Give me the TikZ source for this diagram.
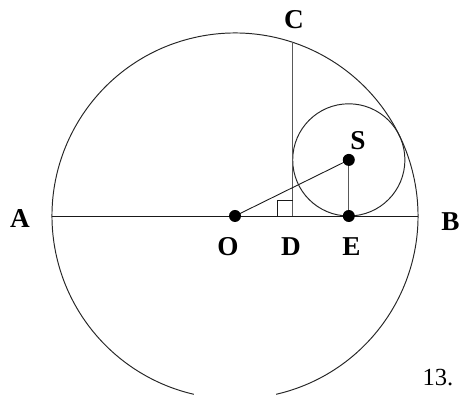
\documentclass[tikz,border=0pt]{standalone}
\usepackage{fontspec}
\setmainfont{Liberation Serif}
\usetikzlibrary{calc}

\begin{document}
\begin{tikzpicture}[
      x=0.02cm, y=0.02cm,
      circ/.style={draw=black!85, line width=0.55pt},
      seg/.style={draw=black!90, line width=0.5pt},
      greyseg/.style={draw=black!65, line width=0.65pt},
      dot/.style={circle, fill=black, inner sep=0pt, minimum size=12*0.02cm},
      lbl/.style={font=\fontsize{15.5}{17}\selectfont\bfseries, inner sep=0pt}
    ]
      \useasboundingbox (0,0) rectangle (460,395);

      % Points
      \coordinate (O) at (235,179);
      \coordinate (A) at (52,179);
      \coordinate (B) at (418,179);
      \coordinate (D) at (292.7,179);
      \coordinate (C) at (292.7,352.7);
      \coordinate (S) at (348.8,235.1);
      \coordinate (E) at (348.8,179);

      % Big circle, open at the bottom
      \draw[circ] ($(O)+(283:183)$) arc[start angle=283, end angle=617, radius=183];

      % Small circle
      \draw[circ] (S) circle (56.1);

      % Diameter and chords
      \draw[seg] (A) -- (B);
      \draw[greyseg] (D) -- (C);
      \draw[seg] (O) -- (S);
      \draw[greyseg] (S) -- (E);

      % Right angle at D
      \draw[seg] ($(D)+(-15,0)$) -- ++(0,16) -- ++(15,0);

      % Dots
      \node[dot] (o) at (O) {};
      \node[dot] (s) at (S) {};
      \node[dot] (e) at (E) {};

      % Labels
      \node[lbl] (la) at (20,176) {A};
      \node[lbl] (lb) at (450.5,173) {B};
      \node[lbl] (lc) at (294,375) {C};
      \node[lbl] (lo) at (228,148) {O};
      \node[lbl] (ld) at (291,148) {D};
      \node[lbl] (le) at (351.5,148) {E};
      \node[lbl] (ls) at (358,254) {S};
      \node[font=\fontsize{14}{16}\selectfont, inner sep=0pt] (num) at (438,17.5) {13.};
    \end{tikzpicture}
\end{document}
